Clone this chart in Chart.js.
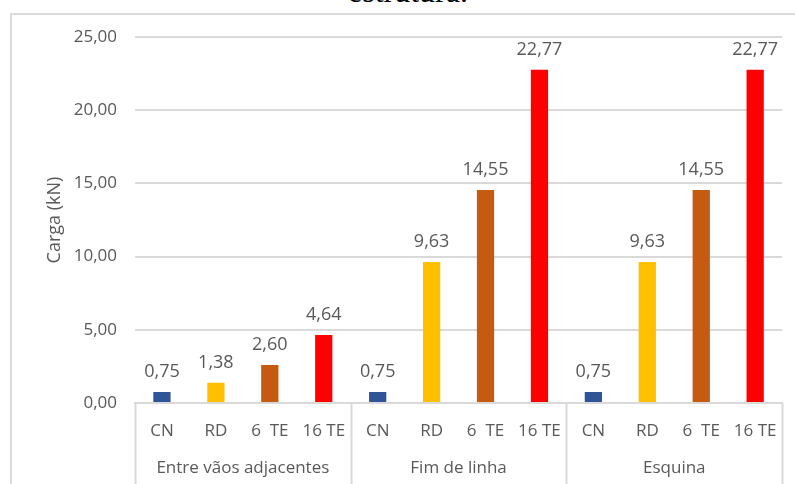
<!doctype html>
<html lang="pt">
  <head>
    <meta charset="utf-8">
    <title>Carga (kN)</title>
    <script src="https://cdn.jsdelivr.net/npm/chart.js"></script>
    <style>
      html, body { margin: 0; padding: 0; background: #fff; overflow: hidden; }
      body { width: 795px; height: 484px; position: relative; }
      #caption {
        position: absolute; left: 408px; top: -25px; transform: translateX(-50%);
        font-family: "Liberation Serif", serif; font-size: 32px; line-height: 32px;
        color: #000; white-space: nowrap;
      }
      #box {
        position: absolute; left: 10px; top: 13px; width: 783px; height: 469px;
        border-left: 2px solid #d9d9d9; border-top: 2px solid #d9d9d9;
      }
      #box canvas { display: block; }
    </style>
  </head>
  <body>
    <div id="caption">estrutura.</div>
    <div id="box"><canvas id="cargaChart" width="783" height="469"></canvas></div>
    <script>
      const groups = ['Entre vãos adjacentes', 'Fim de linha', 'Esquina'];
      const subLabels = ['CN', 'RD', '6  TE', '16 TE'];
      const cn = [0.75, 0.75, 0.75];
      const rd = [1.38, 9.63, 9.63];
      const te6 = [2.60, 14.55, 14.55];
      const te16 = [4.64, 22.77, 22.77];
      const yTicks = [0, 5, 10, 15, 20, 25];

      const barColors = ['#2f5597', '#ffc000', '#c55a11', '#ff0000'];
      const textColor = '#595959';
      const lineColor = '#d9d9d9';
      const font = 'Open Sans';

      const labels = [];
      const values = [];
      const colors = [];
      groups.forEach((g, i) => {
        [cn, rd, te6, te16].forEach((series, j) => {
          labels.push(subLabels[j]);
          values.push(series[i]);
          colors.push(barColors[j]);
        });
      });

      const fmt = v => v.toFixed(2).replace('.', ',');

      // value labels above each bar
      const valueLabels = {
        id: 'valueLabels',
        afterDatasetsDraw(chart) {
          const ctx = chart.ctx;
          const meta = chart.getDatasetMeta(0);
          ctx.save();
          ctx.font = '18px "' + font + '"';
          ctx.fillStyle = textColor;
          ctx.textAlign = 'center';
          ctx.textBaseline = 'middle';
          meta.data.forEach((bar, i) => {
            ctx.fillText(fmt(values[i]), bar.x, bar.y - 20);
          });
          ctx.restore();
        }
      };

      // group labels and separators under the category axis
      const groupAxis = {
        id: 'groupAxis',
        afterDraw(chart) {
          const ctx = chart.ctx;
          const x = chart.scales.x;
          const area = chart.chartArea;
          const n = subLabels.length;
          const edge = k => {
            if (k === 0) return area.left;
            if (k === labels.length) return area.right;
            return (x.getPixelForValue(k - 1) + x.getPixelForValue(k)) / 2;
          };
          ctx.save();
          ctx.strokeStyle = lineColor;
          ctx.lineWidth = 2;
          for (let g = 0; g <= groups.length; g++) {
            const px = Math.round(edge(g * n)) + 0.5;
            ctx.beginPath();
            ctx.moveTo(px, area.bottom);
            ctx.lineTo(px, chart.height);
            ctx.stroke();
          }
          ctx.font = '17px "' + font + '"';
          ctx.fillStyle = textColor;
          ctx.textAlign = 'center';
          ctx.textBaseline = 'middle';
          groups.forEach((g, i) => {
            const cx = (edge(i * n) + edge((i + 1) * n)) / 2;
            ctx.fillText(g, cx, area.bottom + 65);
          });
          ctx.restore();
        }
      };

      new Chart(document.getElementById('cargaChart').getContext('2d'), {
        type: 'bar',
        data: {
          labels: labels,
          datasets: [{
            data: values,
            backgroundColor: colors,
            barPercentage: 0.32,
            categoryPercentage: 1
          }]
        },
        options: {
          responsive: false,
          animation: false,
          events: [],
          layout: { padding: { left: 0, right: 12, top: 22, bottom: 0 } },
          plugins: { legend: { display: false }, tooltip: { enabled: false } },
          scales: {
            x: {
              grid: { display: false, drawTicks: false },
              border: { display: true, color: lineColor, width: 2 },
              ticks: {
                color: textColor, padding: 18, maxRotation: 0, autoSkip: false,
                font: { family: font, size: 17 }
              },
              afterFit(scale) { scale.height = 81; }
            },
            y: {
              min: 0,
              max: 25,
              afterBuildTicks(scale) { scale.ticks = yTicks.map(v => ({ value: v })); },
              // invisible tick marks keep the labels off the plot without extra top padding
              grid: { color: lineColor, lineWidth: 2, drawTicks: true, tickLength: 18, tickColor: 'rgba(0,0,0,0)' },
              border: { display: false },
              ticks: {
                color: textColor, padding: 0,
                font: { family: font, size: 17 },
                callback: v => fmt(v)
              },
              title: {
                display: true, text: 'Carga (kN)', color: textColor,
                font: { family: font, size: 18 }, padding: { top: 32, bottom: 0 }
              },
              afterFit(scale) { scale.width = 123; }
            }
          }
        },
        plugins: [valueLabels, groupAxis]
      });
    </script>
  </body>
</html>
